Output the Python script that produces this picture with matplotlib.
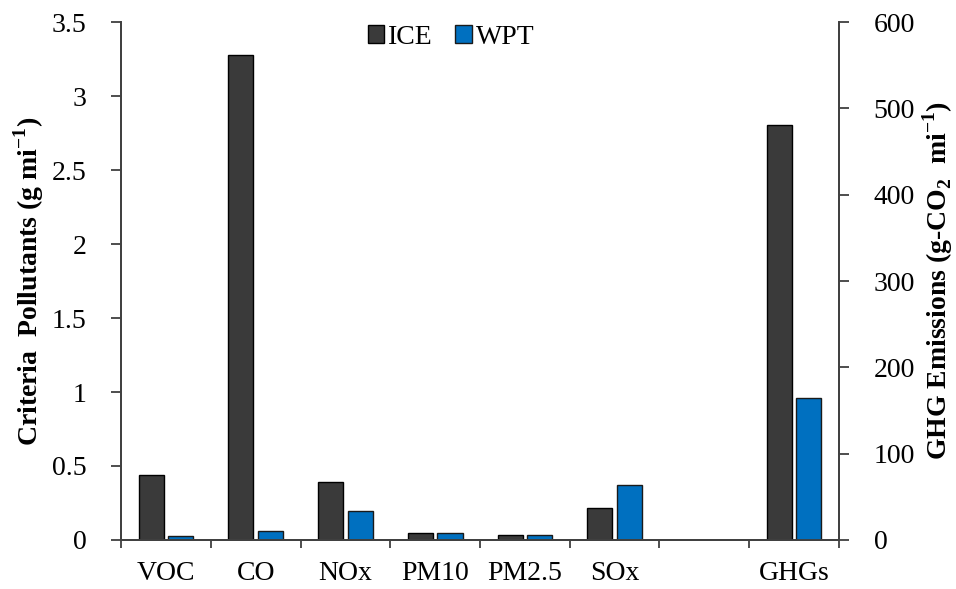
import numpy as np
import matplotlib
matplotlib.use('Agg')
import matplotlib.pyplot as plt

plt.rcParams['font.family'] = ['Liberation Serif', 'DejaVu Serif']
plt.rcParams['mathtext.fontset'] = 'custom'
plt.rcParams['mathtext.rm'] = 'Liberation Serif'
plt.rcParams['mathtext.bf'] = 'Liberation Serif:bold'

# data
categories = ['VOC', 'CO', 'NOx', 'PM10', 'PM2.5', 'SOx', '', 'GHGs']
ice_criteria = [0.437, 3.277, 0.394, 0.05, 0.033, 0.216]
wpt_criteria = [0.024, 0.06, 0.196, 0.05, 0.033, 0.37]
ice_ghg = 481
wpt_ghg = 164.5
left_ticks = [0, 0.5, 1, 1.5, 2, 2.5, 3, 3.5]
left_ticklabels = ['0', '0.5', '1', '1.5', '2', '2.5', '3', '3.5']
right_ticks = [0, 100, 200, 300, 400, 500, 600]

c_ice = '#3a3a3a'
c_wpt = '#0070c0'
w = 0.28
off = 0.165

fig = plt.figure(figsize=(9.56, 5.89), dpi=100)
ax = fig.add_axes([0.1266, 0.0832, 0.751, 0.8794])
ax2 = ax.twinx()

x = np.arange(len(ice_criteria))
ax.bar(x - off, ice_criteria, w, color=c_ice, edgecolor='black', linewidth=1, label='ICE')
ax.bar(x + off, wpt_criteria, w, color=c_wpt, edgecolor='#1a1a1a', linewidth=1, label='WPT')
ax2.bar([7 - off], [ice_ghg], w, color=c_ice, edgecolor='black', linewidth=1)
ax2.bar([7 + off], [wpt_ghg], w, color=c_wpt, edgecolor='#1a1a1a', linewidth=1)

ax.set_xlim(-0.5, 7.5)
ax.set_ylim(0, 3.5)
ax2.set_ylim(0, 600)

ax.set_yticks(left_ticks)
ax.set_yticklabels(left_ticklabels)
ax2.set_yticks(right_ticks)

ax.set_xticks(np.arange(len(categories)))
ax.set_xticklabels(categories)
ax.set_xticks(np.arange(-0.5, 8, 1), minor=True)
ax.tick_params(axis='x', which='major', length=0, labelsize=20, pad=15)
ax.tick_params(axis='x', which='minor', length=6, width=1.3, direction='out', color='#404040')
ax.tick_params(axis='y', length=7, width=1.3, direction='out', labelsize=20, pad=18, color='#404040')
ax2.tick_params(axis='y', length=7, width=1.3, direction='out', labelsize=20, pad=18, color='#404040')

for a in (ax, ax2):
    a.spines['top'].set_visible(False)
    for s in ('left', 'right', 'bottom'):
        a.spines[s].set_color('#404040')
        a.spines[s].set_linewidth(1.3)

ax.set_ylabel(r'Criteria  Pollutants (g mi$^{\mathregular{-1}}$)', fontsize=20, fontweight='bold', labelpad=4)
ax2.set_ylabel(r'GHG Emissions (g-CO$_{\mathregular{2}}$  mi$^{\mathregular{-1}}$)', fontsize=20, fontweight='bold', labelpad=4)

leg = ax.legend(loc='center', bbox_to_anchor=(0.472, 0.937), bbox_transform=fig.transFigure,
                ncol=2, frameon=False, fontsize=20, handlelength=0.6, handleheight=0.6,
                handletextpad=0.15, columnspacing=0.8)

fig.savefig('out.png', dpi=100)
